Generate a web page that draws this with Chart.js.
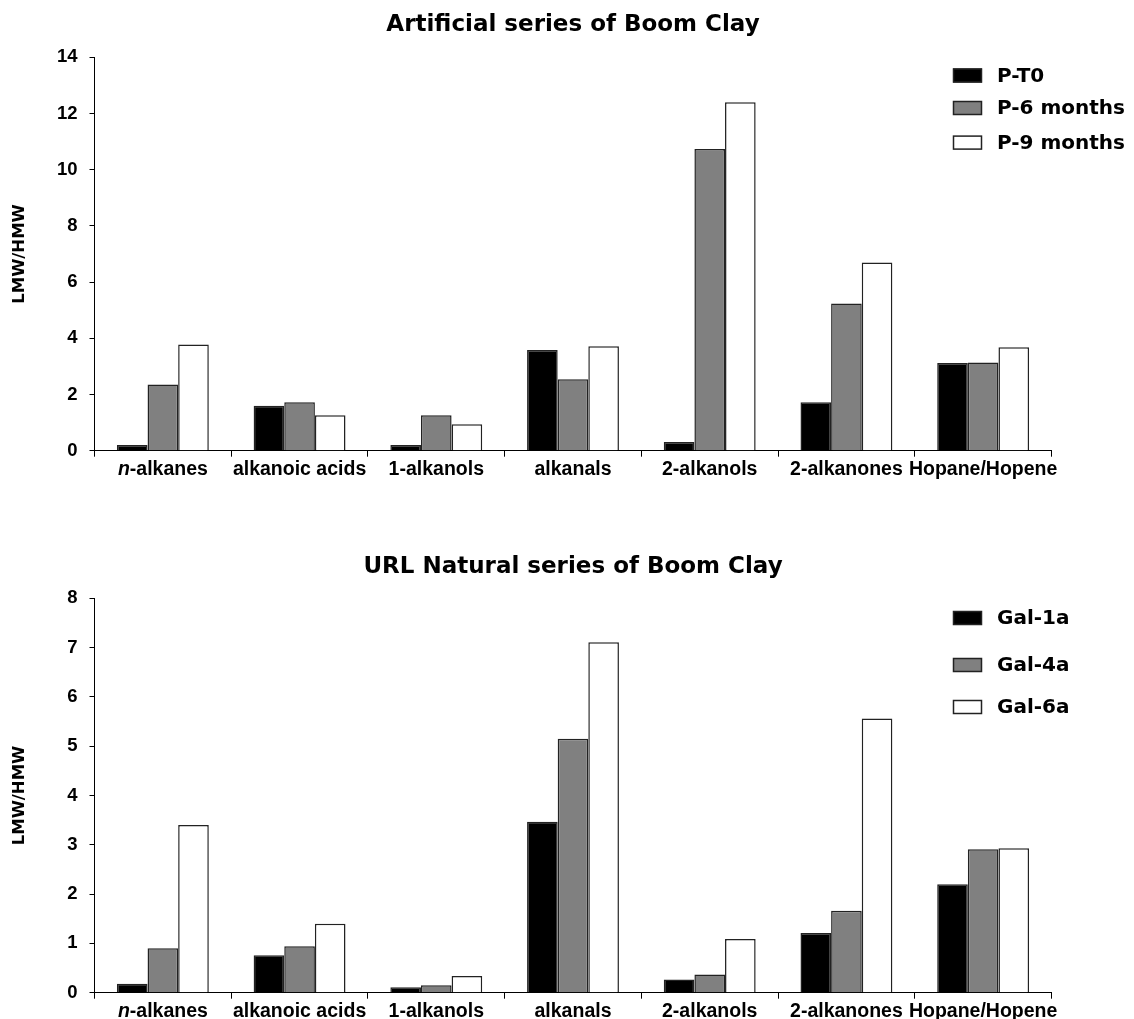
<!DOCTYPE html>
<html>
<head>
<meta charset="utf-8">
<script src="https://cdn.jsdelivr.net/npm/chart.js@4.4.1/dist/chart.umd.min.js"></script>
<style>
  body { margin: 0; background: #fff; }
  .box { position: absolute; left: 0; width: 1134px; }
</style>
</head>
<body>
<div class="box" style="top:0;height:500px"><canvas id="top"></canvas></div>
<div class="box" style="top:500px;height:519px"><canvas id="bottom"></canvas></div>
<script>
const categories = ['n-alkanes', 'alkanoic acids', '1-alkanols', 'alkanals', '2-alkanols', '2-alkanones', 'Hopane/Hopene'];

// artificial series
const artificialNames = ['P-T0', 'P-6 months', 'P-9 months'];
const pT0 = [0.2, 1.6, 0.2, 3.58, 0.31, 1.72, 3.12];
const p6months = [2.36, 1.72, 1.26, 2.54, 10.74, 5.24, 3.14];
const p9months = [3.78, 1.26, 0.94, 3.72, 12.4, 6.7, 3.68];

// URL natural series
const naturalNames = ['Gal-1a', 'Gal-4a', 'Gal-6a'];
const gal1a = [0.18, 0.76, 0.11, 3.47, 0.27, 1.21, 2.2];
const gal4a = [0.9, 0.94, 0.15, 5.15, 0.37, 1.66, 2.91];
const gal6a = [3.4, 1.4, 0.34, 7.11, 1.09, 5.56, 2.93];

const fills = ['#000000', '#808080', '#ffffff'];
const SANS = '"Liberation Sans", Arial, sans-serif';
const WIDE = '"DejaVu Sans", sans-serif';

// title, legend and the "n-alkanes" label (italic n) drawn on the canvas
const titleLegend = {
  id: 'titleLegend',
  afterDraw(chart, args, opts) {
    const ctx = chart.ctx;
    const area = chart.chartArea;
    ctx.save();
    ctx.fillStyle = '#000';
    ctx.textBaseline = 'middle';
    ctx.font = 'bold 23px ' + WIDE;
    ctx.textAlign = 'center';
    ctx.fillText(opts.title, (area.left + area.right) / 2, opts.titleY);

    ctx.font = 'bold 20px ' + WIDE;
    ctx.textAlign = 'left';
    chart.data.datasets.forEach((ds, i) => {
      const y = opts.rows[i];
      ctx.fillStyle = ds.backgroundColor;
      ctx.fillRect(953, y - 7, 29, 14);
      ctx.strokeStyle = '#222';
      ctx.lineWidth = 1.5;
      ctx.strokeRect(953.5, y - 6.5, 28, 13);
      ctx.fillStyle = '#000';
      ctx.fillText(ds.label, 997, y + 1);
    });

    // first category: italic "n" + bold rest
    const first = chart.data.labels[0];
    const head = first.slice(0, 1), tail = first.slice(1);
    const x = chart.scales.x.getPixelForTick(0);
    const y = area.bottom + 6 + 1 + 11.7;
    ctx.font = 'italic bold 19.5px ' + SANS;
    const w1 = ctx.measureText(head).width;
    ctx.font = 'bold 19.5px ' + SANS;
    const w2 = ctx.measureText(tail).width;
    const x0 = x - (w1 + w2) / 2;
    ctx.font = 'italic bold 19.5px ' + SANS;
    ctx.fillText(head, x0, y);
    ctx.font = 'bold 19.5px ' + SANS;
    ctx.fillText(tail, x0 + w1, y);
    ctx.restore();
  }
};

function makeChart(id, names, series, yMax, step, top, bottomPad, xHeight, legendOpts) {
  const datasets = series.map((vals, i) => ({
    label: names[i],
    data: vals,
    backgroundColor: fills[i],
    borderColor: '#222',
    borderWidth: 1.5,
    categoryPercentage: 0.672,
    barPercentage: 1
  }));
  return new Chart(document.getElementById(id), {
    type: 'bar',
    data: { labels: categories, datasets: datasets },
    plugins: [titleLegend],
    options: {
      responsive: true,
      maintainAspectRatio: false,
      animation: false,
      layout: { padding: { top: top, right: 82.5, bottom: bottomPad, left: 0 } },
      plugins: {
        legend: { display: false },
        tooltip: { enabled: false },
        titleLegend: legendOpts
      },
      scales: {
        x: {
          afterFit: (s) => { s.height = xHeight; },
          grid: { drawOnChartArea: false, tickLength: 6, color: '#000', offset: true },
          border: { color: '#000', width: 1 },
          ticks: {
            color: '#000', padding: 1, maxRotation: 0, autoSkip: false,
            callback: (v, i) => i === 0 ? '' : categories[i],
            font: { family: SANS, size: 19.5, weight: 'bold' }
          }
        },
        y: {
          min: 0, max: yMax,
          afterFit: (s) => { s.width = 94.5; },
          grid: { drawOnChartArea: false, tickLength: 5, color: '#000' },
          border: { color: '#000', width: 1 },
          ticks: { stepSize: step, color: '#000', padding: 12, font: { family: SANS, size: 18.5, weight: 'bold' } },
          title: { display: true, text: 'LMW/HMW', color: '#000', padding: { top: 9.6 }, font: { family: WIDE, size: 16.5, weight: 'bold' } }
        }
      }
    }
  });
}

makeChart('top', artificialNames, [pT0, p6months, p9months], 14, 2, 57.3, 18.3, 31,
  { title: 'Artificial series of Boom Clay', titleY: 25, rows: [75.5, 108, 142.6] });
makeChart('bottom', naturalNames, [gal1a, gal4a, gal6a], 8, 1, 98.3, 0, 26.3,
  { title: 'URL Natural series of Boom Clay', titleY: 67, rows: [118, 165, 207] });
</script>
</body>
</html>
